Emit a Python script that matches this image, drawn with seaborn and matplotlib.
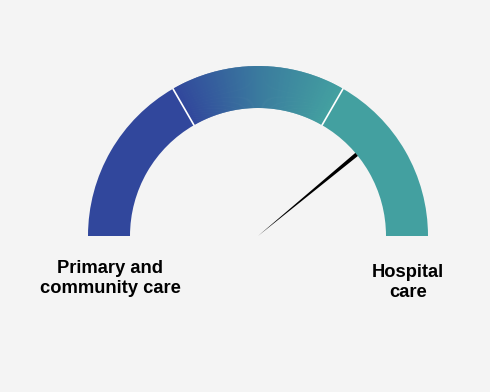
import numpy as np
import matplotlib
matplotlib.use("Agg")
import matplotlib.pyplot as plt
from matplotlib.patches import Wedge, Polygon
import seaborn as sns

# Gauge content
segments = ["Primary and community care", "Mixed", "Hospital care"]
segment_bounds = [0, 33.33, 66.67, 100]   # gauge scale, 0 = left end, 100 = right end
needle_value = 78
end_labels = ["Primary and\ncommunity care", "Hospital\ncare"]

blue = "#31479C"
teal = "#43A0A0"
bg = "#F4F4F4"

sns.set_theme(style="white")
plt.rcParams["font.family"] = ["Liberation Sans", "DejaVu Sans"]

fig = plt.figure(figsize=(4.9, 3.92), dpi=100, facecolor=bg)
ax = fig.add_axes([0, 0, 1, 1])
ax.set_facecolor(bg)
ax.set_xlim(0, 490)
ax.set_ylim(0, 392)
ax.set_aspect("equal")
ax.axis("off")

cx, cy = 258, 156
r_out, r_in = 170, 128
width = r_out - r_in


def to_angle(v):
    return 180 - 180 * v / 100.0


# left and right solid segments
ax.add_patch(Wedge((cx, cy), r_out, to_angle(segment_bounds[1]), to_angle(segment_bounds[0]),
                   width=width, facecolor=blue, edgecolor="none"))
ax.add_patch(Wedge((cx, cy), r_out, to_angle(segment_bounds[3]), to_angle(segment_bounds[2]),
                   width=width, facecolor=teal, edgecolor="none"))

# middle segment: blue-to-teal gradient
n = 150
grad = sns.blend_palette([blue, "#3A7A9E", teal], n_colors=n)
edges = np.linspace(segment_bounds[1], segment_bounds[2], n + 1)
for i in range(n):
    a1, a0 = to_angle(edges[i]), to_angle(edges[i + 1])
    ax.add_patch(Wedge((cx, cy), r_out, a0 - 0.15, a1 + 0.15, width=width,
                       facecolor=grad[i], edgecolor="none"))

# white dividers between segments
for b in segment_bounds[1:3]:
    th = np.radians(to_angle(b))
    ax.plot([cx + (r_in - 0.5) * np.cos(th), cx + (r_out + 0.5) * np.cos(th)],
            [cy + (r_in - 0.5) * np.sin(th), cy + (r_out + 0.5) * np.sin(th)],
            color="white", lw=1.2, solid_capstyle="butt", zorder=3)

# needle: tapering triangle from the centre to the inner edge
th = np.radians(to_angle(needle_value))
tip = np.array([cx + r_in * np.cos(th), cy + r_in * np.sin(th)])
perp = np.array([-np.sin(th), np.cos(th)]) * 2.0
ax.add_patch(Polygon([(cx, cy), tip + perp, tip - perp], closed=True,
                     facecolor="black", edgecolor="none", zorder=4))

# end labels
ax.text(110, 113.5, end_labels[0], ha="center", va="center", fontsize=13.2,
        fontweight="bold", color="black", linespacing=1.2)
ax.text(408, 109.5, end_labels[1], ha="center", va="center", fontsize=13.2,
        fontweight="bold", color="black", linespacing=1.2)

fig.savefig("out.png", dpi=100, facecolor=bg)
